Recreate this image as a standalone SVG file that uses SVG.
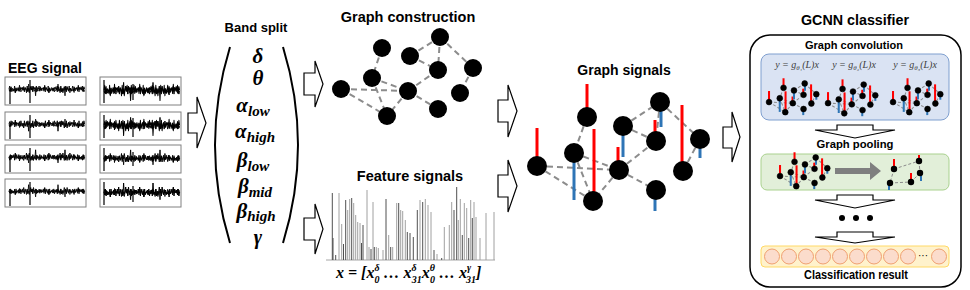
<svg xmlns="http://www.w3.org/2000/svg" xmlns:xlink="http://www.w3.org/1999/xlink" width="970" height="290" viewBox="0 0 970 290">
<style>
.t{font-family:"Liberation Sans",Arial,sans-serif;font-weight:bold;fill:#000;text-anchor:middle}
.m{font-family:"Liberation Serif","DejaVu Serif",serif;font-weight:bold;font-style:italic;fill:#000}
.f{font-family:"Liberation Serif","DejaVu Serif",serif;font-style:italic;fill:#404040;font-size:10px;text-anchor:middle}
.box{fill:#fff;stroke:#808080;stroke-width:1}
.arr{fill:#fff;stroke:#000;stroke-width:1.2;stroke-linejoin:miter}
.e{stroke:#8c8c8c;stroke-width:2;stroke-dasharray:6 4;fill:none}
.ge{stroke:#8c8c8c;stroke-width:1;stroke-dasharray:3 2;fill:none}
.sp{stroke:#000;stroke-width:1.2}
.nz{fill:none;stroke:#000;stroke-width:1;stroke-linejoin:round}
.bg{stroke:#a0a0a0;stroke-width:1}
.bd{stroke:#505050;stroke-width:1}
</style>
<defs>
<path id="noise" d="M0,0 l.7,-4 .7,7 .7,-6 .7,5 .7,-3 .7,1 .7,3 .7,-7 .7,9 .7,-6 .7,4 .7,-3 .7,-2 .7,5 .7,-8 .7,6 .7,-3 .7,2 .7,-2 .7,4 .7,-3 .7,3 .7,-4 .7,2 .7,5 .7,-9 .7,7 .7,-4 .7,6 .7,-5 .7,-3 .7,4 .7,-5 .7,7 .7,-6 .7,3 .7,-2 .7,11 .7,-13 .7,6 .7,-4 .7,2 .7,-4 .7,7 .7,-6 .7,5 .7,-3 .7,1 .7,-2 .7,5 .7,-8 .7,6 .7,-3 .7,2 .7,3 .7,-7 .7,9 .7,-6 .7,4 .7,-3 .7,-2 .7,4 .7,-3 .7,3 .7,-4 .7,2 .7,-3 .7,4 .7,-5 .7,7 .7,-6 .7,3 .7,5 .7,-9 .7,7 .7,-4 .7,6 .7,-5 .7,-2 .7,11 .7,-13 .7,6 .7,-4 .7,2 .7,3 .7,-7 .7,9 .7,-6 .7,4 .7,-3 .7,-4 .7,7 .7,-6 .7,5 .7,-3 .7,1 .7,-2 .7,5 .7,-8 .7,6 .7,-3 .7,2 .7,-3 .7,4 .7,-5 .7,7 .7,-6 .7,3"/>
<g id="gsE">
<line x1="587" y1="117" x2="574" y2="153"/><line x1="537" y1="166" x2="619" y2="170"/><line x1="537" y1="166" x2="593" y2="201"/><line x1="574" y1="153" x2="619" y2="170"/><line x1="574" y1="153" x2="593" y2="201"/><line x1="619" y1="170" x2="593" y2="201"/><line x1="619" y1="170" x2="656" y2="141"/><line x1="619" y1="170" x2="656" y2="190"/><line x1="623" y1="126" x2="660" y2="102"/><line x1="623" y1="126" x2="656" y2="141"/><line x1="660" y1="102" x2="656" y2="141"/><line x1="660" y1="102" x2="700" y2="139"/><line x1="700" y1="139" x2="683" y2="171"/>
</g>
<g id="gsR">
<line x1="537" y1="128" x2="537" y2="166"/><line x1="587" y1="84" x2="587" y2="117"/><line x1="594" y1="129" x2="594" y2="201"/><line x1="618" y1="147" x2="618" y2="170"/><line x1="655" y1="120" x2="655" y2="141"/><line x1="682" y1="105" x2="682" y2="171"/>
</g>
<g id="gsB">
<line x1="574" y1="153" x2="574" y2="200"/><line x1="623" y1="126" x2="623" y2="157"/><line x1="661" y1="102" x2="661" y2="127"/><line x1="700" y1="139" x2="700" y2="158"/><line x1="655" y1="190" x2="655" y2="211"/>
</g>
<g id="gsN">
<circle cx="537" cy="166" r="10"/><circle cx="574" cy="153" r="10"/><circle cx="587" cy="117" r="10"/><circle cx="593" cy="201" r="10"/><circle cx="623" cy="126" r="10"/><circle cx="619" cy="170" r="10"/><circle cx="660" cy="102" r="10"/><circle cx="656" cy="141" r="10"/><circle cx="700" cy="139" r="10"/><circle cx="683" cy="171" r="10"/><circle cx="656" cy="190" r="10"/>
</g>
<g id="mini">
<use xlink:href="#gsE" stroke="#8c8c8c" stroke-width="3.5" stroke-dasharray="10 7" fill="none"/>
<use xlink:href="#gsR" stroke="#ff0000" stroke-width="7"/>
<use xlink:href="#gsB" stroke="#2e75b6" stroke-width="7"/>
<use xlink:href="#gsN" fill="#000" stroke="#000" stroke-width="2"/>
</g>
</defs>
<rect width="970" height="290" fill="#fff"/>

<g id="eeg-signal">
<text class="t" x="45" y="73" font-size="14">EEG signal</text>
<rect class="box" x="5" y="77" width="81" height="28"/>
<rect class="box" x="5" y="112" width="81" height="28"/>
<rect class="box" x="5" y="145" width="81" height="28"/>
<rect class="box" x="5" y="179" width="81" height="28"/>
<rect class="box" x="100" y="77" width="81" height="28"/>
<rect class="box" x="100" y="112" width="81" height="28"/>
<rect class="box" x="100" y="145" width="81" height="28"/>
<rect class="box" x="100" y="179" width="81" height="28"/>
<use class="nz" xlink:href="#noise" transform="translate(9,89) scale(1,0.75)"/>
<use class="nz" xlink:href="#noise" transform="translate(84.6,89.5) scale(-1,-0.6)"/>
<use class="nz" xlink:href="#noise" transform="translate(84.6,124) scale(-1,0.8)"/>
<use class="nz" xlink:href="#noise" transform="translate(9,124.5) scale(1,-0.6)"/>
<use class="nz" xlink:href="#noise" transform="translate(9,157) scale(1,-0.8)"/>
<use class="nz" xlink:href="#noise" transform="translate(84.6,157.5) scale(-1,0.6)"/>
<use class="nz" xlink:href="#noise" transform="translate(84.6,191) scale(-1,-0.7)"/>
<use class="nz" xlink:href="#noise" transform="translate(9,191.5) scale(1,0.6)"/>
<use class="nz" xlink:href="#noise" transform="translate(104,90) scale(1,1.15)"/>
<use class="nz" xlink:href="#noise" transform="translate(179.6,90.5) scale(-1,-0.9)"/>
<use class="nz" xlink:href="#noise" transform="translate(179.6,125) scale(-1,1.15)"/>
<use class="nz" xlink:href="#noise" transform="translate(104,125.5) scale(1,-0.9)"/>
<use class="nz" xlink:href="#noise" transform="translate(104,158) scale(1,-0.9)"/>
<use class="nz" xlink:href="#noise" transform="translate(179.6,158.5) scale(-1,0.7)"/>
<use class="nz" xlink:href="#noise" transform="translate(179.6,192) scale(-1,-1)"/>
<use class="nz" xlink:href="#noise" transform="translate(104,192.5) scale(1,0.8)"/>
<path class="sp" d="M10,89V104M30,80V103M10,124V139M30,115V138M10,157V172M30,148V171M10,191V206M30,182V205"/>
<path class="sp" d="M104,80V103M133,84V100M104,115V138M133,118V137M104,148V171M133,152V166M104,182V205M133,186V202"/>
</g>

<g id="band-split">
<text class="t" x="256" y="32" font-size="13">Band split</text>
<path d="M230,47 Q200,145 230,243" fill="none" stroke="#000" stroke-width="2"/>
<path d="M283,47 Q313,145 283,243" fill="none" stroke="#000" stroke-width="2"/>
<g class="m" font-size="21" text-anchor="middle">
<text x="258" y="63">δ</text>
<text x="258" y="85">θ</text>
<text x="253" y="112">α<tspan font-size="15" dy="4">low</tspan></text>
<text x="255" y="138">α<tspan font-size="15" dy="4">high</tspan></text>
<text x="253" y="167">β<tspan font-size="15" dy="4">low</tspan></text>
<text x="255" y="193">β<tspan font-size="15" dy="4">mid</tspan></text>
<text x="256" y="218">β<tspan font-size="15" dy="3">high</tspan></text>
<text x="258" y="244" font-size="20">γ</text>
</g>
</g>

<g id="graph-construction">
<text class="t" x="408" y="22" font-size="14.5">Graph construction</text>
<g class="e">
<line x1="382" y1="48" x2="372" y2="78"/><line x1="341" y1="89" x2="408" y2="91"/><line x1="341" y1="89" x2="387" y2="116"/><line x1="372" y1="78" x2="408" y2="91"/><line x1="372" y1="78" x2="387" y2="116"/><line x1="408" y1="91" x2="387" y2="116"/><line x1="408" y1="91" x2="438" y2="70"/><line x1="408" y1="91" x2="438" y2="109"/><line x1="410" y1="56" x2="440" y2="37"/><line x1="410" y1="56" x2="438" y2="70"/><line x1="440" y1="37" x2="438" y2="70"/><line x1="440" y1="37" x2="473" y2="68"/><line x1="473" y1="68" x2="460" y2="93"/>
</g>
<g fill="#000">
<circle cx="341" cy="89" r="9"/><circle cx="382" cy="48" r="9"/><circle cx="372" cy="78" r="9"/><circle cx="410" cy="56" r="9"/><circle cx="440" cy="37" r="9"/><circle cx="438" cy="70" r="9"/><circle cx="473" cy="68" r="9"/><circle cx="408" cy="91" r="9"/><circle cx="460" cy="93" r="9"/><circle cx="387" cy="116" r="9"/><circle cx="438" cy="109" r="9"/>
</g>
</g>

<g id="feature-signals">
<text class="t" x="410" y="181" font-size="14.5">Feature signals</text>
<line x1="326" y1="260" x2="495" y2="260" stroke="#a6a6a6" stroke-width="1"/>
<g class="bg">
<line x1="339" y1="260" x2="339" y2="193"/><line x1="341.7" y1="260" x2="341.7" y2="224"/><line x1="347.7" y1="260" x2="347.7" y2="210"/><line x1="349.7" y1="260" x2="349.7" y2="199"/><line x1="353.7" y1="260" x2="353.7" y2="203"/><line x1="355.7" y1="260" x2="355.7" y2="215"/><line x1="357.7" y1="260" x2="357.7" y2="222"/><line x1="360" y1="260" x2="360" y2="223"/><line x1="367" y1="260" x2="367" y2="190"/><line x1="369" y1="260" x2="369" y2="247"/><line x1="373" y1="260" x2="373" y2="202"/><line x1="376.3" y1="260" x2="376.3" y2="247"/><line x1="378.3" y1="260" x2="378.3" y2="248"/><line x1="388.7" y1="260" x2="388.7" y2="235"/><line x1="392.7" y1="260" x2="392.7" y2="247"/><line x1="396.7" y1="260" x2="396.7" y2="203"/><line x1="400.7" y1="260" x2="400.7" y2="210"/><line x1="402.7" y1="260" x2="402.7" y2="211"/><line x1="405.3" y1="260" x2="405.3" y2="220"/><line x1="420" y1="260" x2="420" y2="200"/><line x1="425.3" y1="260" x2="425.3" y2="199"/><line x1="428" y1="260" x2="428" y2="205"/><line x1="431" y1="260" x2="431" y2="212"/><line x1="444.3" y1="260" x2="444.3" y2="227"/><line x1="449.3" y1="260" x2="449.3" y2="225"/><line x1="451.7" y1="260" x2="451.7" y2="202"/><line x1="458.3" y1="260" x2="458.3" y2="220"/><line x1="460.3" y1="260" x2="460.3" y2="199"/><line x1="464.3" y1="260" x2="464.3" y2="203"/><line x1="466.7" y1="260" x2="466.7" y2="208"/><line x1="470.7" y1="260" x2="470.7" y2="200"/><line x1="474" y1="260" x2="474" y2="202"/><line x1="476" y1="260" x2="476" y2="217"/><line x1="480" y1="260" x2="480" y2="238"/><line x1="486" y1="260" x2="486" y2="213"/><line x1="494" y1="260" x2="494" y2="212"/><line x1="383" y1="260" x2="383" y2="250"/><line x1="437" y1="260" x2="437" y2="254"/>
</g>
<g class="bd">
<line x1="332.3" y1="260" x2="332.3" y2="193"/><line x1="333" y1="260" x2="333" y2="238"/><line x1="335.7" y1="260" x2="335.7" y2="255"/><line x1="343.5" y1="260" x2="343.5" y2="244"/><line x1="345.7" y1="260" x2="345.7" y2="200"/><line x1="351.7" y1="260" x2="351.7" y2="198"/><line x1="361.5" y1="260" x2="361.5" y2="243"/><line x1="363" y1="260" x2="363" y2="225"/><line x1="371" y1="260" x2="371" y2="249"/><line x1="374.3" y1="260" x2="374.3" y2="247"/><line x1="386" y1="260" x2="386" y2="199"/><line x1="390.7" y1="260" x2="390.7" y2="247"/><line x1="398.7" y1="260" x2="398.7" y2="203"/><line x1="407.3" y1="260" x2="407.3" y2="232"/><line x1="410" y1="260" x2="410" y2="233"/><line x1="413.3" y1="260" x2="413.3" y2="237"/><line x1="417.3" y1="260" x2="417.3" y2="210"/><line x1="422.7" y1="260" x2="422.7" y2="202"/><line x1="434" y1="260" x2="434" y2="250"/><line x1="441.7" y1="260" x2="441.7" y2="258"/><line x1="454" y1="260" x2="454" y2="210"/><line x1="456.7" y1="260" x2="456.7" y2="187"/><line x1="462.3" y1="260" x2="462.3" y2="235"/><line x1="468.7" y1="260" x2="468.7" y2="238"/><line x1="472.3" y1="260" x2="472.3" y2="218"/>
</g>
<text class="m" x="336" y="278" font-size="16">x = [x<tspan font-size="10" dy="-7">δ</tspan><tspan font-size="10" dx="-5" dy="12">0</tspan><tspan dy="-5"> … x</tspan><tspan font-size="10" dy="-7">δ</tspan><tspan font-size="10" dx="-5" dy="12">31</tspan><tspan dy="-5">x</tspan><tspan font-size="10" dy="-7">θ</tspan><tspan font-size="10" dx="-5" dy="12">0</tspan><tspan dy="-5"> … x</tspan><tspan font-size="10" dy="-7">γ</tspan><tspan font-size="10" dx="-5" dy="12">31</tspan><tspan dy="-5">]</tspan></text>
</g>

<g id="graph-signals">
<text class="t" x="624" y="75" font-size="14">Graph signals</text>
<use xlink:href="#gsE" class="e"/>
<use xlink:href="#gsR" stroke="#ff0000" stroke-width="3"/>
<use xlink:href="#gsB" stroke="#2e75b6" stroke-width="3"/>
<use xlink:href="#gsN" fill="#000"/>
</g>

<g id="gcnn-classifier">
<text class="t" x="855" y="25" font-size="15" textLength="108" lengthAdjust="spacingAndGlyphs">GCNN classifier</text>
<rect x="750" y="35" width="211" height="252" rx="20" fill="none" stroke="#000" stroke-width="1.5"/>
<g id="graph-convolution">
<text class="t" x="854" y="49" font-size="11.5" textLength="98" lengthAdjust="spacingAndGlyphs">Graph convolution</text>
<rect x="761" y="54" width="188" height="66" rx="8" fill="#dae3f3" stroke="#7f9fcf" stroke-width="1"/>
<text class="f" x="797" y="68">y = g<tspan font-size="7" dy="2">θ₁</tspan><tspan dy="-2">(L)x</tspan></text>
<text class="f" x="854" y="68">y = g<tspan font-size="7" dy="2">θ₂</tspan><tspan dy="-2">(L)x</tspan></text>
<text class="f" x="915" y="68">y = g<tspan font-size="7" dy="2">θ₃</tspan><tspan dy="-2">(L)x</tspan></text>
<use xlink:href="#mini" transform="translate(613.3,53.9) scale(0.29)"/>
<use xlink:href="#mini" transform="translate(672.3,55) scale(0.29)"/>
<use xlink:href="#mini" transform="translate(737.3,53.9) scale(0.29)"/>
</g>
<g id="graph-pooling">
<text class="t" x="855" y="148" font-size="11.5" textLength="77" lengthAdjust="spacingAndGlyphs">Graph pooling</text>
<rect x="761" y="154" width="188" height="36" rx="6" fill="#e2efd9" stroke="#a9d18e" stroke-width="1"/>
<use xlink:href="#mini" transform="translate(624.3,127.9) scale(0.29)"/>
<polygon points="835,168 870,168 870,162 881,171 870,180 870,174 835,174" fill="#7f7f7f"/>
<g class="ge">
<line x1="894" y1="169" x2="919" y2="161"/><line x1="919" y1="161" x2="920" y2="173"/><line x1="894" y1="169" x2="890" y2="183"/><line x1="890" y1="183" x2="911" y2="182"/><line x1="920" y1="173" x2="911" y2="182"/>
</g>
<g stroke-width="2">
<line x1="894" y1="159" x2="894" y2="169" stroke="#ff0000"/><line x1="919" y1="155" x2="919" y2="161" stroke="#ff0000"/><line x1="911" y1="173" x2="911" y2="182" stroke="#ff0000"/>
<line x1="921" y1="173" x2="921" y2="181" stroke="#2e75b6"/><line x1="889" y1="183" x2="889" y2="190" stroke="#2e75b6"/>
</g>
<g fill="#000">
<circle cx="894" cy="169" r="3.2"/><circle cx="919" cy="161" r="3.2"/><circle cx="920" cy="173" r="3.2"/><circle cx="890" cy="183" r="3.2"/><circle cx="911" cy="182" r="3.2"/>
</g>
</g>
<g id="ellipsis-dots" fill="#000">
<circle cx="842" cy="218" r="3"/><circle cx="856" cy="218" r="3"/><circle cx="870" cy="218" r="3"/>
</g>
<g id="classification-result">
<rect x="761" y="246" width="188" height="21" rx="4" fill="#fff2cc" stroke="#ffd966" stroke-width="1"/>
<g fill="#fbdccc" stroke="#f0a070" stroke-width="1">
<circle cx="772" cy="256.5" r="7.5"/><circle cx="789" cy="256.5" r="7.5"/><circle cx="806" cy="256.5" r="7.5"/><circle cx="823" cy="256.5" r="7.5"/><circle cx="840" cy="256.5" r="7.5"/><circle cx="857" cy="256.5" r="7.5"/><circle cx="874" cy="256.5" r="7.5"/><circle cx="891" cy="256.5" r="7.5"/><circle cx="908" cy="256.5" r="7.5"/><circle cx="939" cy="256.5" r="7.5"/>
</g>
<text x="923" y="259" font-family="Liberation Sans,Arial,sans-serif" font-size="10" text-anchor="middle" fill="#000">···</text>
<text class="t" x="856" y="279" font-size="12" textLength="104" lengthAdjust="spacingAndGlyphs">Classification result</text>
</g>
</g>

<g id="connectors">
<polygon class="arr" points="188,113 197,113 197,97 206,123 197,148 197,133 188,133"/>
<polygon class="arr" points="304,73 315,73 315,61 323,84 315,107 315,95 304,95"/>
<polygon class="arr" points="304,218 315,218 315,204 323,229 315,254 315,240 304,240"/>
<polygon class="arr" points="498,100 508,100 508,85 517,111 508,137 508,122 498,122"/>
<polygon class="arr" points="498,175 508,175 508,160 517,186 508,212 508,197 498,197"/>
<polygon class="arr" points="723,127 732,127 732,112 740,137 732,162 732,148 723,148"/>
<polygon class="arr" points="837,125 873,125 873,130 895,130 855,138 815,130 837,130"/>
<polygon class="arr" points="837,195 873,195 873,200 895,200 855,208 815,200 837,200"/>
<polygon class="arr" points="837,232 873,232 873,237 895,237 855,243 815,237 837,237"/>
</g>
</svg>
